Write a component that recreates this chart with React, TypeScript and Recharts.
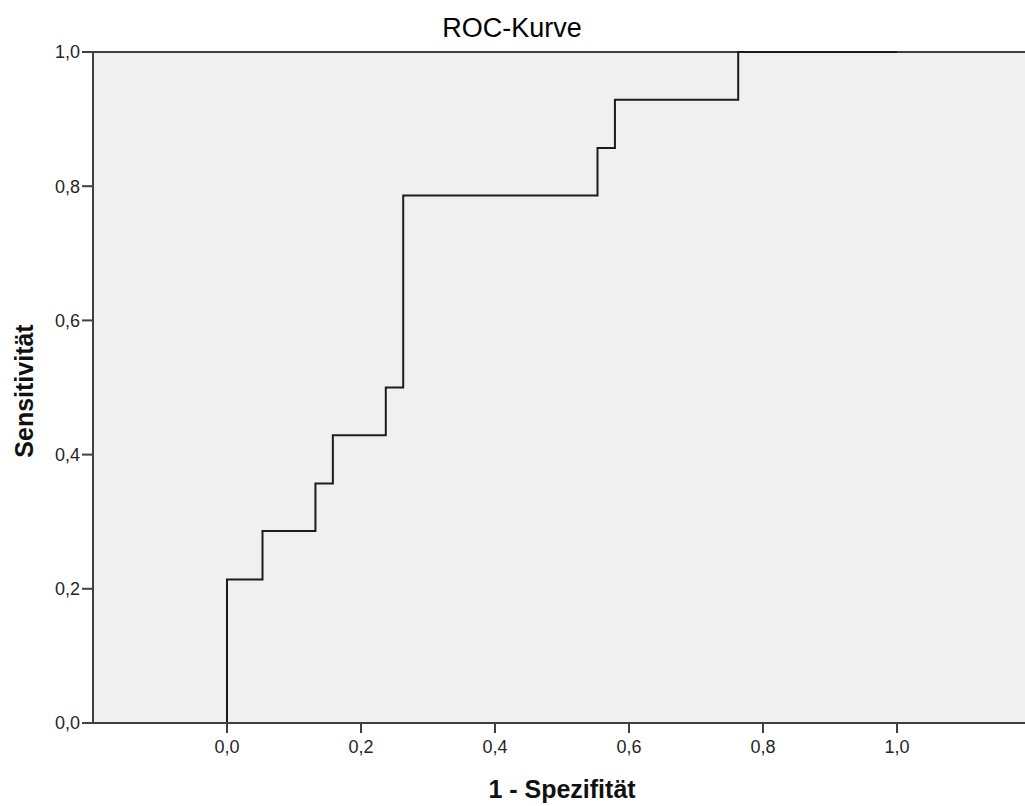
import React from 'react'
import { CartesianGrid, Label, Line, LineChart, ReferenceLine, XAxis, YAxis } from 'recharts'

// ROC curve corner points (1 - specificity, sensitivity)
const fpr = [0, 0.053, 0.132, 0.158, 0.237, 0.263, 0.553, 0.579, 0.763, 1.0]
const tpr = [0, 0.214, 0.286, 0.357, 0.429, 0.5, 0.786, 0.857, 0.929, 1.0]

const xTicks = [0, 0.2, 0.4, 0.6, 0.8, 1.0]
const yTicks = [0, 0.2, 0.4, 0.6, 0.8, 1.0]

const title = 'ROC-Kurve'
const xTitle = '1 - Spezifität'
const yTitle = 'Sensitivität'

const font = "'Liberation Sans', Arial, sans-serif"
const axisColor = '#404040'

const data = fpr.map((x, i) => ({ fpr: x, tpr: tpr[i] }))

const fmt = (v: number) => v.toFixed(1).replace('.', ',')

export default function App() {
  return (
    <div style={{ position: 'absolute', left: 0, top: 0, width: 1025, height: 806, overflow: 'hidden', background: '#fff' }}>
      <LineChart width={1040} height={806} data={data} margin={{ top: 52, right: 9, bottom: 0, left: 0 }}>
        <CartesianGrid horizontal={false} vertical={false} fill="#f0f0f0" />
        <XAxis
          type="number"
          dataKey="fpr"
          domain={[-0.2, 1.2]}
          ticks={xTicks}
          allowDataOverflow
          height={83}
          tickSize={10}
          tickMargin={7}
          tickFormatter={fmt}
          stroke={axisColor}
          strokeWidth={2}
          tick={{ fontSize: 18, fill: '#262626', fontFamily: font }}
        >
          <Label
            content={() => (
              <text x={562} y={798} textAnchor="middle" fontFamily={font} fontSize={25} fontWeight="bold" fill="#111">
                {xTitle}
              </text>
            )}
          />
        </XAxis>
        <YAxis
          type="number"
          domain={[0, 1]}
          ticks={yTicks}
          width={93}
          tickSize={11}
          tickMargin={2}
          tickFormatter={fmt}
          stroke={axisColor}
          strokeWidth={2}
          tick={{ fontSize: 18, fill: '#262626', fontFamily: font }}
        >
          <Label
            content={() => (
              <text
                x={33}
                y={391}
                transform="rotate(-90 33 391)"
                textAnchor="middle"
                fontFamily={font}
                fontSize={25}
                fontWeight="bold"
                fill="#111"
              >
                {yTitle}
              </text>
            )}
          />
        </YAxis>
        <ReferenceLine y={1} stroke={axisColor} strokeWidth={2} />
        <Line
          type="stepBefore"
          dataKey="tpr"
          stroke="#1c1c1c"
          strokeWidth={2}
          dot={false}
          activeDot={false}
          isAnimationActive={false}
        />
      </LineChart>
      <svg width={1025} height={806} style={{ position: 'absolute', left: 0, top: 0, pointerEvents: 'none' }}>
        <text x={512} y={37} textAnchor="middle" fontFamily={font} fontSize={27} fill="#000">
          {title}
        </text>
      </svg>
    </div>
  )
}
